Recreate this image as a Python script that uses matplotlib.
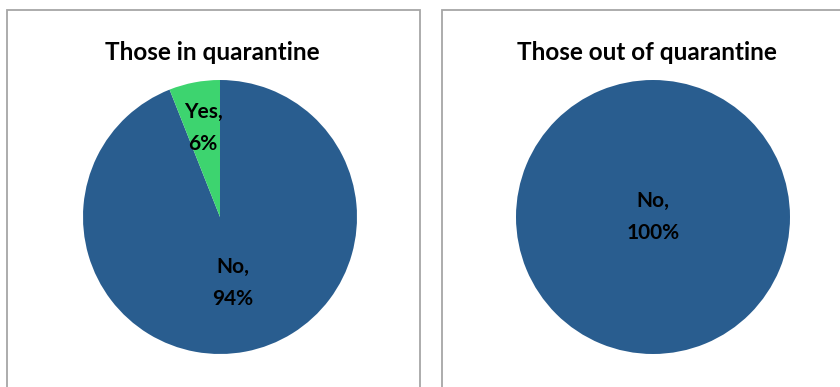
import matplotlib
matplotlib.use("Agg")
import matplotlib.pyplot as plt
import numpy as np
from matplotlib.patches import Rectangle

# data
titles = ["Those in quarantine", "Those out of quarantine"]
labels_in = ["No", "Yes"]
values_in = [94, 6]
labels_out = ["No"]
values_out = [100]

blue = "#295D8F"
green = "#3DD46F"
plt.rcParams['font.family'] = ['Lato', 'DejaVu Sans']

W, H = 840, 387
fig = plt.figure(figsize=(W / 100, H / 100), dpi=100)

# chart frames (grey borders like the spreadsheet chart areas)
for x0, x1 in [(7, 420), (442, 860)]:
    fig.patches.append(Rectangle((x0 / W, -0.1), (x1 - x0) / W, (H - 10) / H + 0.1,
                                 transform=fig.transFigure, fill=False,
                                 edgecolor="#a6a6a6", linewidth=1.3))


def draw_pie(cx, cy, r, vals, labs, cols, dists, title, tx):
    ax = fig.add_axes([(cx - r) / W, 1 - (cy + r) / H, 2 * r / W, 2 * r / H])
    wedges, _ = ax.pie(vals, colors=cols, startangle=90, counterclock=False,
                       wedgeprops=dict(linewidth=0))
    ax.set_xlim(-1, 1)
    ax.set_ylim(-1, 1)
    ax.set_aspect('equal')
    total = sum(vals)
    for w, v, lab, d in zip(wedges, vals, labs, dists):
        ang = np.deg2rad((w.theta1 + w.theta2) / 2)
        ax.text(d * np.cos(ang), d * np.sin(ang), f"{lab},\n{v / total * 100:.0f}%",
                ha='center', va='center', fontsize=15, fontweight='bold',
                linespacing=1.75, color='black')
    fig.text(tx / W, 1 - 53 / H, title, ha='center', va='center',
             fontsize=17.5, fontweight='bold')


draw_pie(220, 217, 137, values_in, labels_in, [blue, green], [0.49, 0.66], titles[0], 212)
draw_pie(653, 217, 137, values_out, labels_out, [blue], [0.0], titles[1], 647)

fig.savefig("out.png", dpi=100)
